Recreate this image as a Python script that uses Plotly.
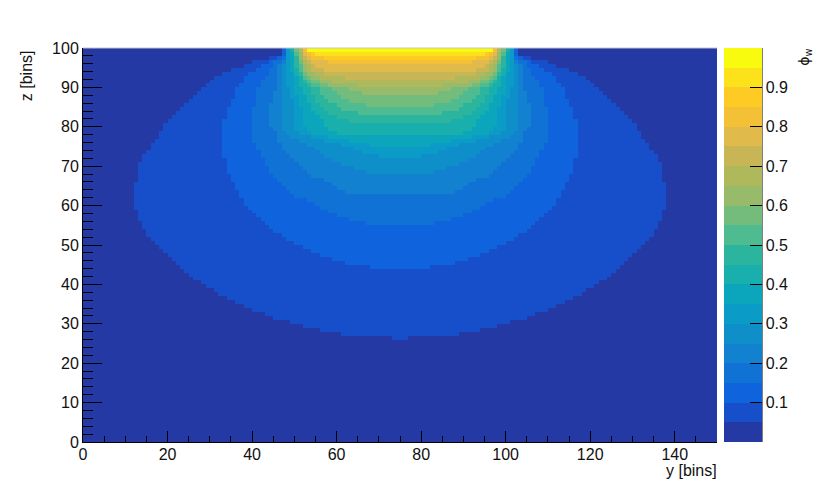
import numpy as np
import plotly.graph_objects as go

# left edge (y bin) of each potential band, row by row from z=100 downwards
# the map is mirrored about y=75
band_01 = [47, 47, 44, 40, 38, 35, 33, 31, 30, 29, 28, 27, 26, 25, 24, 23, 22, 21, 20, 19, 19, 18, 18, 17, 16, 16, 15, 14, 14,
           13, 13, 13, 13, 13, 12, 12, 12, 12, 12, 12, 12, 13, 13, 13, 14, 14, 15, 15, 16, 17, 18, 19, 20, 21, 22, 23, 24, 25,
           26, 28, 29, 31, 32, 34, 36, 38, 40, 43, 45, 49, 52, 56, 61, 73]
band_02 = [47, 47, 46, 44, 42, 41, 39, 38, 38, 37, 36, 36, 36, 35, 35, 34, 34, 34, 33, 33, 33, 33, 33, 33, 33, 33, 33, 33,
           34, 34, 34, 34, 35, 35, 36, 36, 37, 37, 38, 38, 39, 40, 41, 42, 43, 44, 45, 47, 48, 50, 52, 54, 56, 59, 62, 68]
band_03 = [48, 48, 47, 45, 45, 44, 44, 43, 42, 42, 41, 41, 41, 41, 41, 40, 40, 40, 40, 40, 40, 40, 40, 40, 41, 41, 42, 42,
           43, 43, 44, 44, 45, 46, 47, 48, 49, 50, 53, 55, 56, 58, 60, 63, 67]
band_04 = [48, 48, 48, 47, 46, 46, 46, 46, 46, 46, 46, 45, 45, 45, 44, 44, 44, 44, 44, 44, 45, 46, 46, 46, 47, 47, 48, 49,
           50, 51, 52, 53, 54, 57, 59, 60, 62]
band_05 = [48, 48, 48, 48, 47, 47, 47, 47, 47, 47, 47, 47, 47, 47, 47, 47, 47, 47, 47, 47, 47, 48, 49, 51, 53, 55, 56, 57,
           59, 61, 64, 67]
band_06 = [48, 48, 48, 48, 48, 48, 48, 48, 48, 48, 49, 49, 49, 50, 50, 50, 50, 50, 50, 50, 50, 51, 54, 57, 61, 64, 66, 70]
band_07 = [49, 49, 49, 49, 49, 49, 50, 50, 50, 50, 50, 50, 51, 51, 51, 52, 52, 52, 52, 52, 53, 54, 58, 63, 68]
band_08 = [49, 50, 50, 50, 50, 50, 50, 51, 51, 51, 52, 52, 53, 53, 54, 54, 55, 56, 57, 57, 58, 60]
band_09 = [50, 50, 50, 50, 50, 51, 51, 52, 52, 53, 54, 54, 55, 55, 56, 57, 58, 60, 63]
band_10 = [50, 50, 51, 51, 51, 51, 52, 52, 53, 54, 56, 56, 57, 58, 60, 61, 65]
band_11 = [50, 51, 51, 51, 52, 52, 52, 53, 54, 56, 59, 60, 61, 63, 67]
band_12 = [51, 51, 51, 52, 52, 52, 53, 54, 56, 58, 63, 66]
band_13 = [51, 52, 52, 52, 53, 53, 55, 56, 59, 65]
band_14 = [52, 52, 52, 53, 54, 54, 57, 62]
band_15 = [52, 52, 53, 54, 55, 57]
band_16 = [52, 53, 54, 58]
band_17 = [53, 54, 57]
band_18 = [53, 55]
band_19 = [53]

band_colors = ["#2539A5", "#164FC9", "#0F63DC", "#1172D5", "#1181D0", "#0F8FCA", "#0A9CC7", "#0BA6BC", "#18AFAC", "#2BB59E",
               "#4FBB90", "#74BC7C", "#97BB6B", "#B0B85C", "#C8B556", "#E0BB4B", "#F3C036", "#FECB25", "#FCE21B", "#F9FB0E"]
color_ticks = [0.1, 0.2, 0.3, 0.4, 0.5, 0.6, 0.7, 0.8, 0.9]
x_ticks = [0, 20, 40, 60, 80, 100, 120, 140]
y_ticks = [0, 10, 20, 30, 40, 50, 60, 70, 80, 90, 100]

bands = [band_01, band_02, band_03, band_04, band_05, band_06, band_07, band_08, band_09, band_10,
         band_11, band_12, band_13, band_14, band_15, band_16, band_17, band_18, band_19]

phi = np.full((100, 150), 0.025)
for k, edges in enumerate(bands):
    for n, left in enumerate(edges):
        phi[99 - n, left : 150 - left] = (k + 1) * 0.05 + 0.025

scale = []
for k, c in enumerate(band_colors):
    scale.append([k / 20, c])
    scale.append([(k + 1) / 20, c])

font = dict(family="Liberation Sans", size=16, color="#111111")
# the page has an 8 px body margin, so everything sits 8 px in from the window corner
left, right, top, bottom = 75, 113, 40, 50
w = 634

fig = go.Figure(
    go.Heatmap(
        z=phi,
        x0=0.5,
        dx=1,
        y0=0.5,
        dy=1,
        zmin=0,
        zmax=1,
        colorscale=scale,
        hoverinfo="skip",
        colorbar=dict(
            x=7 / w + 1,
            xanchor="left",
            xpad=0,
            ypad=0,
            y=0,
            yanchor="bottom",
            len=1,
            thickness=38,
            outlinewidth=0,
            ticks="inside",
            ticklen=12,
            tickcolor="black",
            tickwidth=1,
            tickvals=color_ticks,
            tickfont=font,
        ),
    )
)

fig.update_xaxes(
    range=[0, 150],
    tickvals=x_ticks,
    ticks="inside",
    ticklen=11,
    tickcolor="black",
    ticklabelstandoff=-2,
    showline=True,
    linecolor="black",
    showgrid=False,
    zeroline=False,
    tickfont=font,
    minor=dict(dtick=5, ticks="inside", ticklen=6, tickcolor="black", showgrid=False),
)
fig.update_yaxes(
    range=[0, 100],
    tickvals=y_ticks,
    ticks="inside",
    ticklen=19,
    tickcolor="black",
    showline=True,
    linecolor="black",
    showgrid=False,
    zeroline=False,
    tickfont=font,
    minor=dict(dtick=2, ticks="inside", ticklen=10, tickcolor="black", showgrid=False),
)

fig.add_annotation(text="y [bins]", xref="paper", yref="paper", x=1, y=-0.072, xanchor="right", yanchor="middle",
                   xshift=2, showarrow=False, font=font)
fig.add_annotation(text="z [bins]", xref="paper", yref="paper", x=-0.0888, y=1, xanchor="center", yanchor="top",
                   textangle=-90, showarrow=False, font=font)
fig.add_annotation(text="ϕ<sub>w</sub>", xref="paper", yref="paper", x=1 + 88 / w, y=0.975, xanchor="center",
                   yanchor="middle", textangle=-90, showarrow=False, font=dict(family="DejaVu Sans", size=14, color="#111111"))

# colour bar axis line and the grey frame along the top
fig.add_shape(type="line", xref="paper", yref="paper", x0=1 + 45 / w, x1=1 + 45 / w, y0=0, y1=1,
              line=dict(color="black", width=1))
fig.add_shape(type="line", xref="paper", yref="paper", x0=0, x1=1, y0=1, y1=1, line=dict(color="#c4c4c4", width=1))

fig.update_layout(
    width=822,
    height=484,
    margin=dict(l=left, r=right, t=top, b=bottom),
    paper_bgcolor="white",
    plot_bgcolor="white",
)

fig.write_html("out.html")
